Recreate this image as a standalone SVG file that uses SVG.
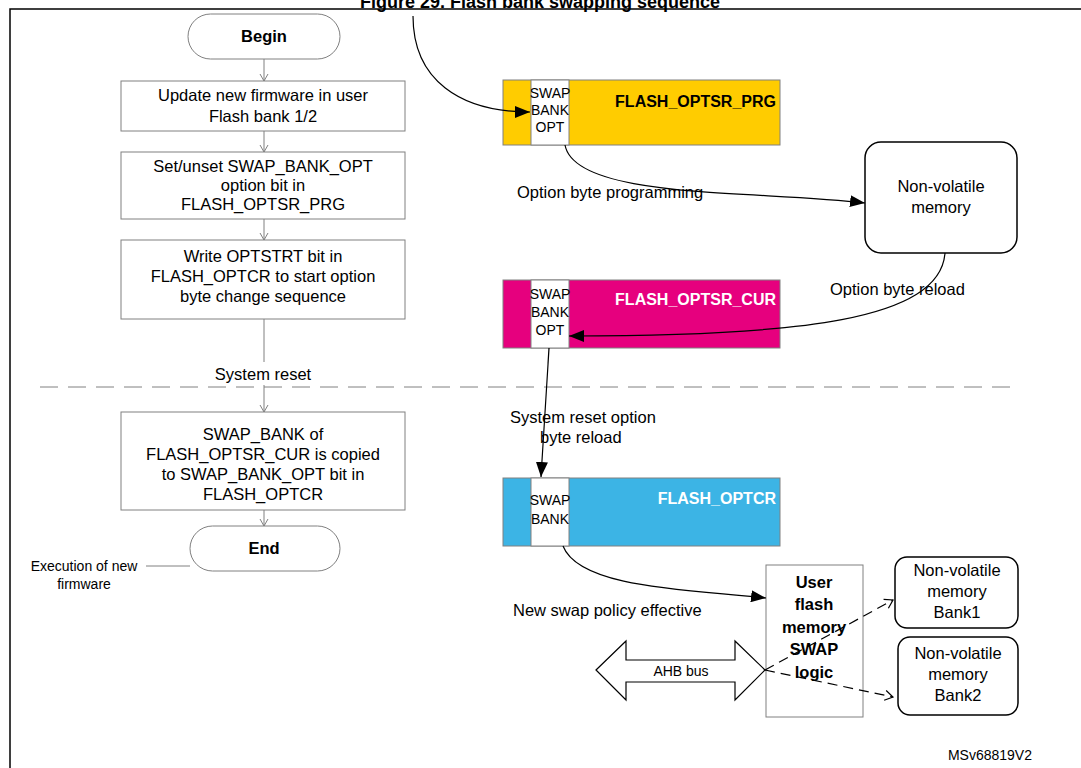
<svg xmlns="http://www.w3.org/2000/svg" width="1081" height="768" viewBox="0 0 1081 768">
<style>
text{font-family:"Liberation Sans",Arial,sans-serif;font-size:16.5px;fill:#000}
.c{text-anchor:middle}
.b{font-weight:bold}
.r{text-anchor:end;font-weight:bold;font-size:16px}
.s{font-size:14px}
.box{fill:#fff;stroke:#808080;stroke-width:1}
.rb{fill:#fff;stroke:#000;stroke-width:1.5}
.ln{fill:none;stroke:#000;stroke-width:1.2}
.fl{fill:none;stroke:#808080;stroke-width:1}
</style>
<defs>
<marker id="o" markerWidth="10" markerHeight="10" refX="8" refY="5" orient="auto" markerUnits="userSpaceOnUse"><path d="M1,1 L8,5 L1,9" fill="none" stroke="#808080"/></marker>
<marker id="f" markerWidth="16" markerHeight="12" refX="15" refY="6" orient="auto" markerUnits="userSpaceOnUse"><path d="M0,0 L15,6 L0,12 Z" fill="#000"/></marker>
<marker id="d" markerWidth="12" markerHeight="12" refX="10" refY="6" orient="auto" markerUnits="userSpaceOnUse"><path d="M2,1 L10,6 L2,11" fill="none" stroke="#000" stroke-width="1.2"/></marker>
</defs>
<text class="c b" x="540" y="8" style="font-size:18px">Figure 29. Flash bank swapping sequence</text>
<rect x="10" y="9" width="1080" height="780" fill="none" stroke="#000" stroke-width="1.5"/>

<g id="begin"><rect class="box" x="188" y="14" width="152" height="45" rx="22.5"/><text class="c b" x="264" y="42">Begin</text></g>
<g id="step1"><rect class="box" x="121" y="81" width="284" height="50"/><text class="c" x="263" y="101">Update new firmware in user</text><text class="c" x="263" y="122">Flash bank 1/2</text></g>
<g id="step2"><rect class="box" x="121" y="152" width="284" height="67"/><text class="c" x="263" y="172">Set/unset SWAP_BANK_OPT</text><text class="c" x="263" y="191">option bit in</text><text class="c" x="263" y="210">FLASH_OPTSR_PRG</text></g>
<g id="step3"><rect class="box" x="121" y="240" width="284" height="79"/><text class="c" x="263" y="262">Write OPTSTRT bit in</text><text class="c" x="263" y="282">FLASH_OPTCR to start option</text><text class="c" x="263" y="302">byte change sequence</text></g>
<g id="step4"><rect class="box" x="121" y="412" width="284" height="98"/><text class="c" x="263" y="440">SWAP_BANK of</text><text class="c" x="263" y="460">FLASH_OPTSR_CUR is copied</text><text class="c" x="263" y="480">to SWAP_BANK_OPT bit in</text><text class="c" x="263" y="500">FLASH_OPTCR</text></g>
<g id="end"><rect class="box" x="190" y="526" width="150" height="45" rx="22.5"/><text class="c b" x="264" y="554">End</text></g>
<g id="note"><text class="c s" x="84" y="571">Execution of new</text><text class="c s" x="84" y="589">firmware</text></g>
<text class="c" x="263" y="380">System reset</text>

<g id="reg-prg"><rect x="503" y="80" width="277" height="65" fill="#FFCC00" stroke="#808080"/><rect x="531" y="80" width="38" height="65" fill="#fff" stroke="#808080"/><text class="c s" x="550" y="98">SWAP</text><text class="c s" x="550" y="115">BANK</text><text class="c s" x="550" y="132">OPT</text><text class="r" x="776" y="107">FLASH_OPTSR_PRG</text></g>
<g id="nvm"><rect class="rb" x="865" y="142" width="152" height="111" rx="16"/><text class="c" x="941" y="192">Non-volatile</text><text class="c" x="941" y="213">memory</text></g>
<g id="reg-cur"><rect x="503" y="280" width="277" height="68" fill="#E6007E" stroke="#808080"/><rect x="531" y="280" width="38" height="68" fill="#fff" stroke="#808080"/><text class="c s" x="550" y="299">SWAP</text><text class="c s" x="550" y="317">BANK</text><text class="c s" x="550" y="335">OPT</text><text class="r" x="776" y="305" style="fill:#fff">FLASH_OPTSR_CUR</text></g>
<g id="reg-cr"><rect x="503" y="478" width="277" height="68" fill="#3CB4E5" stroke="#808080"/><rect x="531" y="478" width="38" height="68" fill="#fff" stroke="#808080"/><text class="c s" x="550" y="505">SWAP</text><text class="c s" x="550" y="524">BANK</text><text class="r" x="776" y="504" style="fill:#fff">FLASH_OPTCR</text></g>
<g id="swaplogic"><rect class="box" x="766" y="565" width="97" height="152"/><text class="c b" x="814" y="588">User</text><text class="c b" x="814" y="610">flash</text><text class="c b" x="814" y="633">memory</text><text class="c b" x="814" y="655">SWAP</text><text class="c b" x="814" y="678">logic</text></g>
<g id="bank1"><rect class="rb" x="895" y="557" width="123" height="71" rx="12"/><text class="c" x="957" y="576">Non-volatile</text><text class="c" x="957" y="597">memory</text><text class="c" x="957" y="618">Bank1</text></g>
<g id="bank2"><rect class="rb" x="898" y="637" width="120" height="78" rx="12"/><text class="c" x="958" y="659">Non-volatile</text><text class="c" x="958" y="680">memory</text><text class="c" x="958" y="701">Bank2</text></g>
<g id="ahb"><path d="M596,670 L626,641 L626,660 L735,660 L735,641 L765,670 L735,700 L735,682 L626,682 L626,700 Z" fill="#fff" stroke="#000" stroke-width="1.2"/><text class="c s" x="681" y="676">AHB bus</text></g>

<g id="connectors">
<line class="fl" x1="264" y1="59" x2="264" y2="81" marker-end="url(#o)"/>
<line class="fl" x1="264" y1="131" x2="264" y2="152" marker-end="url(#o)"/>
<line class="fl" x1="264" y1="219" x2="264" y2="240" marker-end="url(#o)"/>
<line class="fl" x1="264" y1="319" x2="264" y2="362"/>
<line class="fl" x1="264" y1="385" x2="264" y2="412" marker-end="url(#o)"/>
<line class="fl" x1="264" y1="510" x2="264" y2="526" marker-end="url(#o)"/>
<line class="fl" x1="146" y1="566" x2="190" y2="566"/>
<line x1="40" y1="387" x2="1015" y2="387" stroke="#808080" stroke-width="1" stroke-dasharray="18,10"/>
<path class="ln" d="M413,16 C413,80 460,112 530,112" marker-end="url(#f)"/>
<path class="ln" d="M565,145 C575,200 760,190 865,203" marker-end="url(#f)"/>
<path class="ln" d="M945,253 C940,320 800,336 569,336" marker-end="url(#f)"/>
<path class="ln" d="M549,348 L541,477" marker-end="url(#f)"/>
<path class="ln" d="M563,546 C580,590 700,590 766,598" marker-end="url(#f)"/>
<path class="ln" d="M765,670 L893,600" stroke-dasharray="10,6" marker-end="url(#d)"/>
<path class="ln" d="M765,670 L893,697" stroke-dasharray="10,6" marker-end="url(#d)"/>
</g>
<text x="517" y="198">Option byte programming</text>
<text x="830" y="295">Option byte reload</text>
<text x="510" y="423">System reset option</text>
<text x="540" y="443">byte reload</text>
<text x="513" y="616">New swap policy effective</text>
<text x="1032" y="760" style="font-size:14px;text-anchor:end">MSv68819V2</text>
</svg>
